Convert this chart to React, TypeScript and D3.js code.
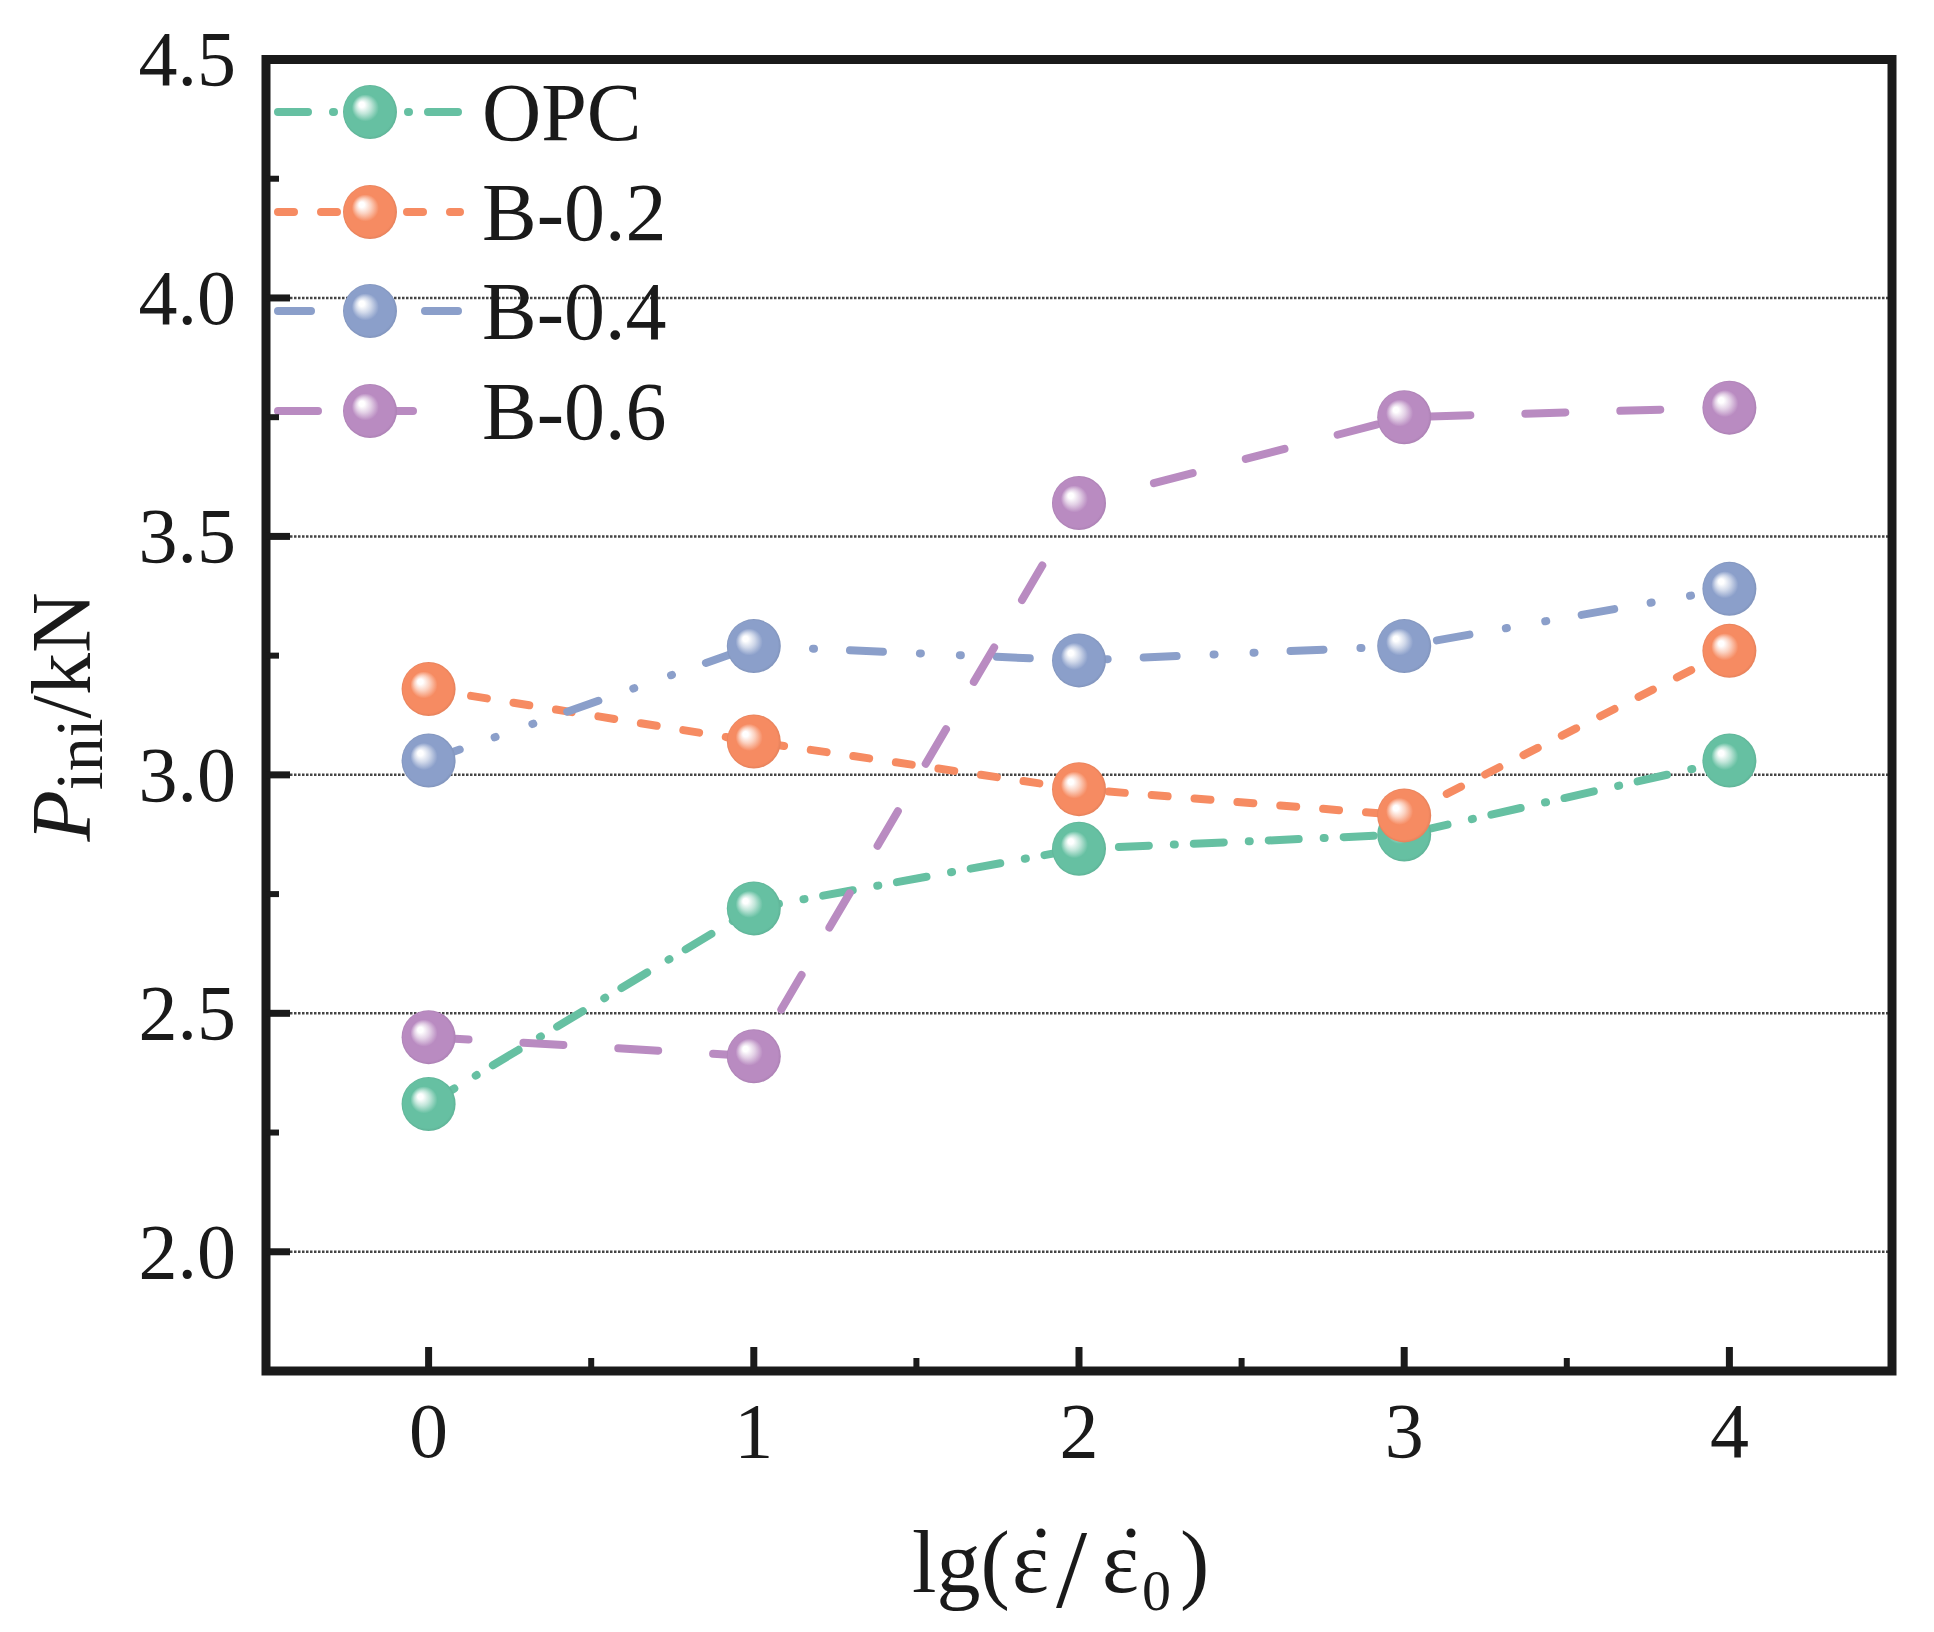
import React from "react";
import * as d3 from "d3";

// ---- data ----
const xValues = [0, 1, 2, 3, 4];
const opcValues = [2.31, 2.72, 2.845, 2.875, 3.03];
const b02Values = [3.18, 3.07, 2.97, 2.915, 3.26];
const b04Values = [3.03, 3.27, 3.24, 3.27, 3.39];
const b06Values = [2.45, 2.41, 3.57, 3.75, 3.77];
const seriesNames = ["OPC", "B-0.2", "B-0.4", "B-0.6"];
const yTickValues = [2.0, 2.5, 3.0, 3.5, 4.0, 4.5];
const yMinorValues = [2.25, 2.75, 3.25, 3.75, 4.25];
const yGridValues = [2.0, 2.5, 3.0, 3.5, 4.0];
const xTickValues = [0, 1, 2, 3, 4];
const xMinorValues = [0.5, 1.5, 2.5, 3.5];

// ---- styles ----
const colors = ["#66c0a2", "#f68b62", "#8b9fca", "#b98bc1"];
const dashes = ["30 25 1 19", "16 27", "33 37 1 39 1 36", "40 55"];

const W = 1934;
const H = 1632;
const left = 266;
const right = 1892;
const top = 59.5;
const bottom = 1371;

const x = d3.scaleLinear().domain([-0.5, 4.5]).range([left, right]);
const y = d3.scaleLinear().domain([1.75, 4.5]).range([bottom, top]);

const allSeries = [opcValues, b02Values, b04Values, b06Values];

const FONT = "'Liberation Serif', 'Times New Roman', serif";
const R = 27;
const INK = "#1a1a1a";

function Ball({ cx, cy, i }: { cx: number; cy: number; i: number }) {
  return <circle cx={cx} cy={cy} r={R} fill={`url(#ball${i})`} />;
}

export default function App() {
  const line = d3
    .line<number>()
    .x((_, j) => x(xValues[j]))
    .y((d) => y(d));

  const legendX0 = 278;
  const legendX1 = [460, 460, 460, 422];
  const legendMarkerX = 370;
  const legendRowY = [112, 212, 311, 411];
  const legendTextX = 482;

  return (
    <div style={{ position: "absolute", left: 0, top: 0 }}>
      <svg width={W} height={H} style={{ display: "block", background: "#fff" }}>
        <defs>
          {colors.map((c, i) => {
            const dark = d3.color(c)!.darker(0.2).formatHex();
            const mid = d3.interpolateRgb(c, "#ffffff")(0.6);
            return (
              <radialGradient key={i} id={`ball${i}`} cx="0.5" cy="0.5" r="0.5" fx="0.33" fy="0.35">
                <stop offset="0" stopColor="#ffffff" />
                <stop offset="0.1" stopColor="#ffffff" />
                <stop offset="0.28" stopColor={mid} />
                <stop offset="0.5" stopColor={c} />
                <stop offset="0.92" stopColor={c} />
                <stop offset="1" stopColor={dark} />
              </radialGradient>
            );
          })}
        </defs>

        {/* grid lines */}
        {yGridValues.map((v) => (
          <line
            key={`g${v}`}
            x1={left}
            x2={right}
            y1={y(v)}
            y2={y(v)}
            stroke="#444"
            strokeWidth={2.5}
            strokeDasharray="2.5 1.5"
          />
        ))}

        {/* series */}
        {allSeries.map((vals, i) => (
          <g key={`s${i}`}>
            <path
              d={line(vals) || ""}
              fill="none"
              stroke={colors[i]}
              strokeWidth={8}
              strokeDasharray={dashes[i]}
              strokeLinecap="round"
            />
            {vals.map((v, j) => (
              <Ball key={j} cx={x(xValues[j])} cy={y(v)} i={i} />
            ))}
          </g>
        ))}

        {/* legend */}
        {seriesNames.map((name, i) => (
          <g key={`l${i}`}>
            <line
              x1={legendX0}
              x2={legendX1[i]}
              y1={legendRowY[i]}
              y2={legendRowY[i]}
              stroke={colors[i]}
              strokeWidth={8}
              strokeDasharray={dashes[i]}
              strokeLinecap="round"
            />
            <Ball cx={legendMarkerX} cy={legendRowY[i]} i={i} />
            <text
              x={legendTextX}
              y={legendRowY[i] + 28}
              fontFamily={FONT}
              fontSize={82}
              fill={INK}
            >
              {name}
            </text>
          </g>
        ))}

        {/* axes frame */}
        <rect
          x={left}
          y={top}
          width={right - left}
          height={bottom - top}
          fill="none"
          stroke={INK}
          strokeWidth={9}
        />

        {/* y ticks */}
        {yTickValues.map((v) => (
          <g key={`yt${v}`}>
            <line x1={left} x2={left + 24} y1={y(v)} y2={y(v)} stroke={INK} strokeWidth={7} />
            <text
              x={236}
              y={y(v)}
              dy="0.33em"
              textAnchor="end"
              fontFamily={FONT}
              fontSize={78}
              fill={INK}
            >
              {d3.format(".1f")(v)}
            </text>
          </g>
        ))}
        {yMinorValues.map((v) => (
          <line key={`ym${v}`} x1={left} x2={left + 13} y1={y(v)} y2={y(v)} stroke={INK} strokeWidth={6} />
        ))}

        {/* x ticks */}
        {xTickValues.map((v) => (
          <g key={`xt${v}`}>
            <line x1={x(v)} x2={x(v)} y1={bottom} y2={bottom - 24} stroke={INK} strokeWidth={7} />
            <text
              x={x(v)}
              y={1457}
              textAnchor="middle"
              fontFamily={FONT}
              fontSize={78}
              fill={INK}
            >
              {v}
            </text>
          </g>
        ))}
        {xMinorValues.map((v) => (
          <line key={`xm${v}`} x1={x(v)} x2={x(v)} y1={bottom} y2={bottom - 13} stroke={INK} strokeWidth={6} />
        ))}

        {/* x axis title: lg(ε̇/ε̇0) */}
        <g fontFamily={FONT} fill={INK}>
          <text x={912} y={1592} fontSize={88}>lg(</text>
          <text x={1012} y={1592} fontSize={88}>ε</text>
          <circle cx={1041} cy={1533} r={4.5} />
          <text x={1056} y={1607} fontSize={112}>/</text>
          <text x={1102} y={1592} fontSize={88}>ε</text>
          <circle cx={1131} cy={1533} r={4.5} />
          <text x={1142} y={1610} fontSize={58}>0</text>
          <text x={1180} y={1592} fontSize={88}>)</text>
        </g>

        {/* y axis title */}
        <text
          transform={`translate(90, 717) rotate(-90)`}
          textAnchor="middle"
          fontFamily={FONT}
          fontSize={84}
          fill={INK}
        >
          <tspan fontStyle="italic">P</tspan>
          <tspan fontSize={68} dy={12}>ini</tspan>
          <tspan dy={-12}>/kN</tspan>
        </text>
      </svg>
    </div>
  );
}
